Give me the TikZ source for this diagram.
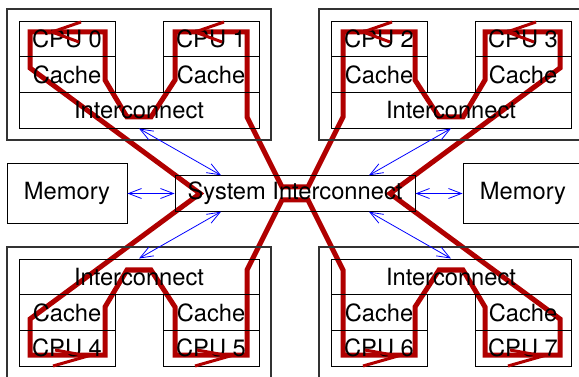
\documentclass[tikz,border=0pt]{standalone}
\usepackage{fontspec}
\setmainfont{TeX Gyre Heros}
\usetikzlibrary{arrows.meta}
\pgfdeclarelayer{background}
\pgfsetlayers{background,main}
\definecolor{pathred}{RGB}{176,0,0}
\begin{document}
\begin{tikzpicture}[x=1pt, y=-1pt,
  font=\fontsize{23.7}{28}\selectfont,
  unit/.style={draw, line width=0.9pt, inner sep=0pt, minimum width=96pt, minimum height=35.67pt},
  icbox/.style={unit, minimum width=240pt},
  cluster/.style={draw, black!80, line width=1.1pt, inner sep=0pt, minimum width=264pt, minimum height=131pt},
  membox/.style={draw, line width=0.9pt, inner sep=0pt, minimum width=120pt, minimum height=60pt},
  sibox/.style={draw, line width=0.9pt, inner sep=0pt, minimum width=240pt, minimum height=35.5pt},
  link/.style={blue, line width=0.8pt, {Straight Barb[length=13pt,width=10pt]}-{Straight Barb[length=13pt,width=10pt]}},
  redloop/.style={pathred, line width=5pt, line join=miter},
  redtip/.style={pathred, line width=3pt}]
\useasboundingbox (0,0) rectangle (579,377);

% clusters
\node[cluster] (clTL) at (139,74.5) {};
\node[cluster] (clTR) at (451,74.5) {};
\node[cluster] (clBL) at (139,312.5) {};
\node[cluster] (clBR) at (451,312.5) {};

% top-left
\node[unit] (cpu0) at (67,38.8) {CPU 0};
\node[unit] (cache0) at (67,74.5) {Cache};
\node[unit] (cpu1) at (211,38.8) {CPU 1};
\node[unit] (cache1) at (211,74.5) {Cache};
\node[icbox] (icA) at (139,110.2) {Interconnect};
% top-right
\node[unit] (cpu2) at (379,38.8) {CPU 2};
\node[unit] (cache2) at (379,74.5) {Cache};
\node[unit] (cpu3) at (523,38.8) {CPU 3};
\node[unit] (cache3) at (523,74.5) {Cache};
\node[icbox] (icB) at (451,110.2) {Interconnect};
% bottom-left
\node[icbox] (icC) at (139,276.8) {Interconnect};
\node[unit] (cache4) at (67,312.5) {Cache};
\node[unit] (cpu4) at (67,348.2) {CPU 4};
\node[unit] (cache5) at (211,312.5) {Cache};
\node[unit] (cpu5) at (211,348.2) {CPU 5};
% bottom-right
\node[icbox] (icD) at (451,276.8) {Interconnect};
\node[unit] (cache6) at (379,312.5) {Cache};
\node[unit] (cpu6) at (379,348.2) {CPU 6};
\node[unit] (cache7) at (523,312.5) {Cache};
\node[unit] (cpu7) at (523,348.2) {CPU 7};

% middle row
\node[membox] (memL) at (67,193.5) {Memory};
\node[membox] (memR) at (523,193.5) {Memory};
\node[sibox] (si) at (295,193.5) {System Interconnect};

% blue links
\draw[link] (memL.east) -- (si.west);
\draw[link] (si.east) -- (memR.west);
\draw[link] (icA.south) -- ([xshift=-74pt]si.north);
\draw[link] (icB.south) -- ([xshift=74pt]si.north);
\draw[link] (icC.north) -- ([xshift=-74pt]si.south);
\draw[link] (icD.north) -- ([xshift=74pt]si.south);

% red path (behind the boxes and texts)
\begin{pgfonlayer}{background}
\draw[redloop] (200,193.5) -- (30,68) -- (30,32) -- (105,32) -- (105,80) -- (127,117) -- (151,117)
  -- (175,80) -- (175,32) -- (247,32) -- (247,117) -- (282,187) -- (308,187)
  -- (343,117) -- (343,32) -- (415,32) -- (415,80) -- (439,117) -- (463,117)
  -- (485,80) -- (485,32) -- (560,32) -- (560,68) -- (390,193.5)
  -- (560,319) -- (560,355) -- (485,355) -- (485,307) -- (463,270) -- (439,270)
  -- (415,307) -- (415,355) -- (343,355) -- (343,270) -- (308,200) -- (282,200)
  -- (247,270) -- (247,355) -- (175,355) -- (175,307) -- (151,270) -- (127,270)
  -- (105,307) -- (105,355) -- (30,355) -- (30,319) -- cycle;
\end{pgfonlayer}
% direction marks on the path
\foreach \t in {52,195,363,507}
  \draw[redtip] (\t+29,22) -- (\t,32) -- (\t+27,42);
\foreach \t in {88,230,398,543}
  \draw[redtip] (\t-33,350) -- (\t,356) -- (\t-35,366);
\end{tikzpicture}
\end{document}
